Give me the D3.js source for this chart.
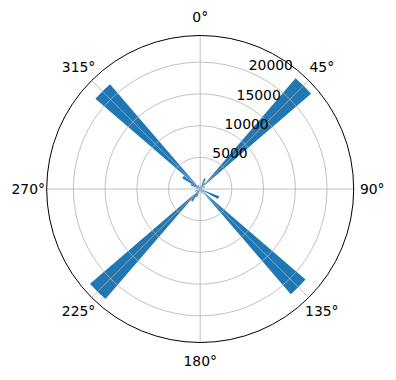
<!DOCTYPE html>
<html lang="en">
<head>
    <meta charset="UTF-8">
    <title>Polar histogram</title>
    <style>
        html,
        body {
            margin: 0;
            height: 100%;
            overflow: hidden;
            background: #fff;
        }
        text {
            font-family: "DejaVu Sans", sans-serif;
            font-size: 13.9px;
            fill: #000;
        }
    </style>
    <script src="https://d3js.org/d3.v7.min.js"></script>
</head>
<body>
    <svg id="svg"></svg>
    <script>
        // bin centres in degrees (10 degree bins)
        const angles = d3.range(5, 360, 10);
        const counts = [
            200, 500, 1800, 1200, 23050, 400, 900, 300, 150,
            150, 500, 3200, 700, 21900, 400, 800, 300, 150,
            150, 400, 1400, 2300, 22900, 500, 900, 300, 150,
            150, 600, 1600, 3300, 21800, 500, 700, 300, 150
        ];
        const rTicks = [5000, 10000, 15000, 20000];
        const thetaTicks = [0, 45, 90, 135, 180, 225, 270, 315];

        const width = 396, height = 380;
        const cx = 200.2, cy = 189, R = 153.5;

        const svg = d3.select('#svg').attr('width', width).attr('height', height);
        const g = svg.append('g').attr('transform', `translate(${cx},${cy})`);

        const rScale = d3.scaleLinear()
            .domain([0, d3.max(counts) * 1.05])
            .range([0, R]);

        const thetaScale = d3.scaleBand()
            .domain(angles)
            .range([0, 2 * Math.PI])
            .paddingInner(0.14)
            .paddingOuter(0.07);

        const rad = d => d * Math.PI / 180;

        const arc = d3.arc()
            .innerRadius(0)
            .outerRadius(d => rScale(d.v))
            .startAngle(d => thetaScale(d.a))
            .endAngle(d => thetaScale(d.a) + thetaScale.bandwidth());

        const data = angles.map((a, i) => ({ a, v: counts[i] }));

        g.selectAll('.bar').data(data).join('path')
            .attr('class', 'bar')
            .attr('d', arc)
            .attr('fill', '#1f77b4');

        // grid
        g.selectAll('.ring').data(rTicks).join('circle')
            .attr('class', 'ring')
            .attr('r', d => rScale(d))
            .attr('fill', 'none')
            .attr('stroke', '#b0b0b0')
            .attr('stroke-width', 0.8);

        g.selectAll('.spoke').data(thetaTicks).join('line')
            .attr('class', 'spoke')
            .attr('x1', 0).attr('y1', 0)
            .attr('x2', d => R * Math.sin(rad(d)))
            .attr('y2', d => -R * Math.cos(rad(d)))
            .attr('stroke', '#b0b0b0')
            .attr('stroke-width', 0.8);

        g.append('circle')
            .attr('r', R)
            .attr('fill', 'none')
            .attr('stroke', '#000')
            .attr('stroke-width', 1);

        // theta labels
        g.selectAll('.tlabel').data(thetaTicks).join('text')
            .attr('class', 'tlabel')
            .attr('x', d => 172 * Math.sin(rad(d)))
            .attr('y', d => -172 * Math.cos(rad(d)))
            .attr('text-anchor', 'middle')
            .attr('dominant-baseline', 'central')
            .text(d => d + '°');

        // radial labels at 22.5 degrees
        const la = rad(22.5);
        g.selectAll('.rlabel').data(rTicks).join('text')
            .attr('class', 'rlabel')
            .attr('x', d => rScale(d) * Math.sin(la))
            .attr('y', d => -rScale(d) * Math.cos(la) - 1.5)
            .attr('text-anchor', 'start')
            .text(d => d);
    </script>
</body>
</html>
